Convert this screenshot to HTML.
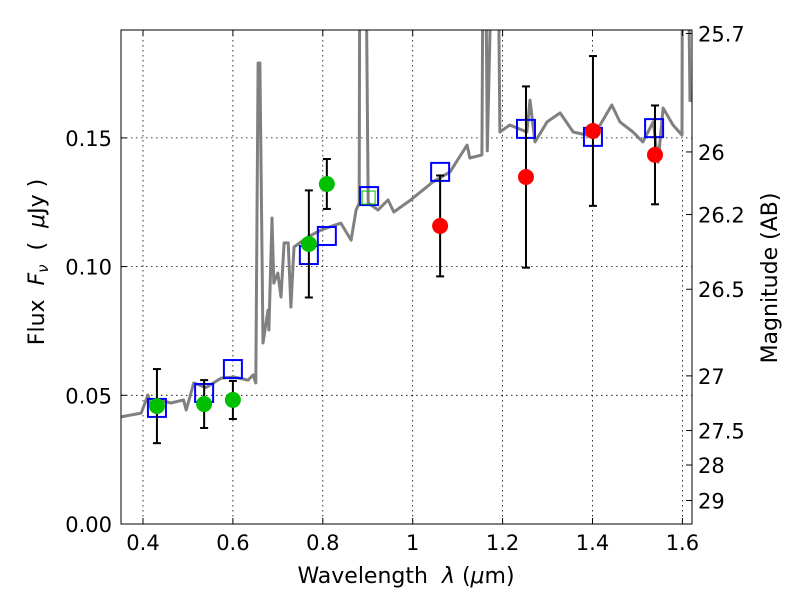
<!DOCTYPE html>
<html><head><meta charset="utf-8"><style>
body{margin:0;background:#fff;}
svg text{font-family:"DejaVu Sans","Liberation Sans",sans-serif;}
</style></head><body>
<svg id="chart" width="800" height="600" xmlns="http://www.w3.org/2000/svg"></svg>
<script>
const specWl=[0.351,0.396,0.411,0.418,0.440,0.462,0.490,0.496,0.513,0.540,0.574,0.602,0.634,0.645,0.651,0.656,0.660,0.667,0.678,0.680,0.687,0.691,0.700,0.707,0.714,0.723,0.729,0.736,0.767,0.796,0.840,0.863,0.874,0.881,0.883,0.892,0.901,0.923,0.945,0.958,0.974,0.996,1.001,1.045,1.083,1.121,1.127,1.154,1.159,1.166,1.186,1.194,1.216,1.254,1.261,1.272,1.299,1.328,1.357,1.388,1.417,1.443,1.461,1.490,1.512,1.535,1.546,1.557,1.579,1.599,1.601,1.608,1.617];
const specFlux=[0.0416,0.0431,0.0501,0.0455,0.0480,0.0470,0.0482,0.0443,0.0548,0.0530,0.0567,0.0571,0.0559,0.0579,0.0548,0.1791,0.1791,0.0703,0.0831,0.0754,0.1189,0.0936,0.0975,0.0882,0.1092,0.1092,0.0843,0.1076,0.1115,0.1142,0.1169,0.1103,0.1220,0.1247,0.3,0.3,0.1247,0.1220,0.1259,0.1212,0.1232,0.1259,0.1267,0.1329,0.1368,0.1472,0.1422,0.1434,0.3,0.145,0.3,0.1523,0.1550,0.1523,0.1647,0.1484,0.1562,0.1597,0.1523,0.1511,0.1550,0.1628,0.1562,0.1523,0.1484,0.1562,0.1406,0.1616,0.1550,0.1511,0.3,0.3,0.1640];
const greenWl=[0.431,0.536,0.600,0.769,0.809];
const greenFlux=[0.0458,0.0466,0.0482,0.1088,0.1321];
const greenErr=[0.0144,0.0093,0.0074,0.0208,0.0097];
const redWl=[1.061,1.252,1.401,1.539];
const redFlux=[0.1158,0.1348,0.1527,0.1434];
const redErr=[0.0196,0.0352,0.0291,0.0192];
const modelWl=[0.431,0.536,0.600,0.769,0.809,0.903,1.061,1.252,1.401,1.537];
const modelFlux=[0.0451,0.0509,0.0602,0.1045,0.1119,0.1274,0.1368,0.1535,0.1504,0.1538];
const xTicks=[0.4,0.6,0.8,1.0,1.2,1.4,1.6];
const xTickLabels=["0.4","0.6","0.8","1","1.2","1.4","1.6"];
const yTicks=[0,0.05,0.10,0.15];
const yTickLabels=["0.00","0.05","0.10","0.15"];
const magTicks=[25.7,26,26.2,26.5,27,27.5,28,29];
const magTickLabels=["25.7","26","26.2","26.5","27","27.5","28","29"];

const L=121,R=692,T=30,B=524;
const X=w=>143+(w-0.4)*449.5;
const Y=f=>524-f*2574;
const magToFlux=m=>Math.pow(10,(23.9-m)/2.5);
const svg=document.getElementById('chart');
const NS='http://www.w3.org/2000/svg';
function mk(tag,attrs,parent){const e=document.createElementNS(NS,tag);for(const k in attrs)e.setAttribute(k,attrs[k]);(parent||svg).appendChild(e);return e;}

const defs=mk('defs',{});
const cp=mk('clipPath',{id:'clip'},defs);mk('rect',{x:L,y:T,width:R-L,height:B-T},cp);

const grid=mk('g',{stroke:'#000','stroke-width':0.8,'stroke-dasharray':'1.5,3.5'});

xTicks.forEach(t=>mk('line',{x1:X(t),x2:X(t),y1:T,y2:B},grid));
yTicks.forEach(t=>mk('line',{x1:L,x2:R,y1:Y(t),y2:Y(t)},grid));

const plot=mk('g',{'clip-path':'url(#clip)'});
let d='';specWl.forEach((w,i)=>{d+=(i?'L':'M')+X(w).toFixed(1)+','+Y(specFlux[i]).toFixed(1);});
const sp=mk('path',{d:d,fill:'none',stroke:'#808080','stroke-width':3,'stroke-linejoin':'round'},plot);

modelWl.forEach((w,i)=>{const r=mk('rect',{x:X(w)-9,y:Y(modelFlux[i])-9,width:18,height:18,fill:'none',stroke:'#0000ff','stroke-width':2},plot);
});
mk('rect',{x:X(0.903)-7,y:Y(0.1274)-5,width:13,height:13,fill:'none',stroke:'#00c000','stroke-width':1},plot);
function errs(ws,fs,es,color,name){ws.forEach((w,i)=>{const g=mk('g',{stroke:'#000','stroke-width':2},plot);

const x=X(w),y1=Y(fs[i]-es[i]),y2=Y(fs[i]+es[i]);
mk('line',{x1:x,x2:x,y1:y1,y2:y2},g);mk('line',{x1:x-4,x2:x+4,y1:y1,y2:y1},g);mk('line',{x1:x-4,x2:x+4,y1:y2,y2:y2},g);
const c=mk('circle',{cx:x,cy:Y(fs[i]),r:8,fill:color},plot);
});}
errs(greenWl,greenFlux,greenErr,'#00c000','optical-obs');
errs(redWl,redFlux,redErr,'#ff0000','nir-obs');

const fr=mk('rect',{x:L,y:T,width:R-L,height:B-T,fill:'none',stroke:'#000','stroke-width':1});

const tk=mk('g',{stroke:'#000','stroke-width':1});
xTicks.forEach((t,i)=>{mk('line',{x1:X(t),x2:X(t),y1:B,y2:B-6},tk);mk('line',{x1:X(t),x2:X(t),y1:T,y2:T+6},tk);
const tx=mk('text',{x:X(t),y:B+26,'font-size':21,'text-anchor':'middle'});tx.textContent=xTickLabels[i];
});
yTicks.forEach((t,i)=>{mk('line',{x1:L,x2:L+6,y1:Y(t),y2:Y(t)},tk);
const tx=mk('text',{x:L-9,y:Y(t)+8,'font-size':21,'text-anchor':'end'});tx.textContent=yTickLabels[i];
});
magTicks.forEach((m,i)=>{const y=Y(magToFlux(m));mk('line',{x1:R,x2:R-6,y1:y,y2:y},tk);
const tx=mk('text',{x:R+6,y:y+8,'font-size':21});tx.textContent=magTickLabels[i];
});
</script>
<svg style="position:absolute;left:0;top:0" width="800" height="600">
<text x="406" y="583" font-size="22" text-anchor="middle" font-family="DejaVu Sans, sans-serif" xml:space="preserve">Wavelength  <tspan font-style="italic">λ</tspan> (<tspan font-style="italic">μ</tspan>m)</text>
<text transform="translate(44,262) rotate(-90)" font-size="22" text-anchor="middle" font-family="DejaVu Sans, sans-serif" xml:space="preserve">Flux  <tspan font-style="italic">F</tspan><tspan font-style="italic" font-size="15" dy="4">ν</tspan><tspan dy="-4">  (  </tspan><tspan font-style="italic">μ</tspan>Jy )</text>
<text transform="translate(777,278) rotate(-90)" font-size="22" text-anchor="middle" font-family="DejaVu Sans, sans-serif">Magnitude (AB)</text>
</svg>
</body></html>
